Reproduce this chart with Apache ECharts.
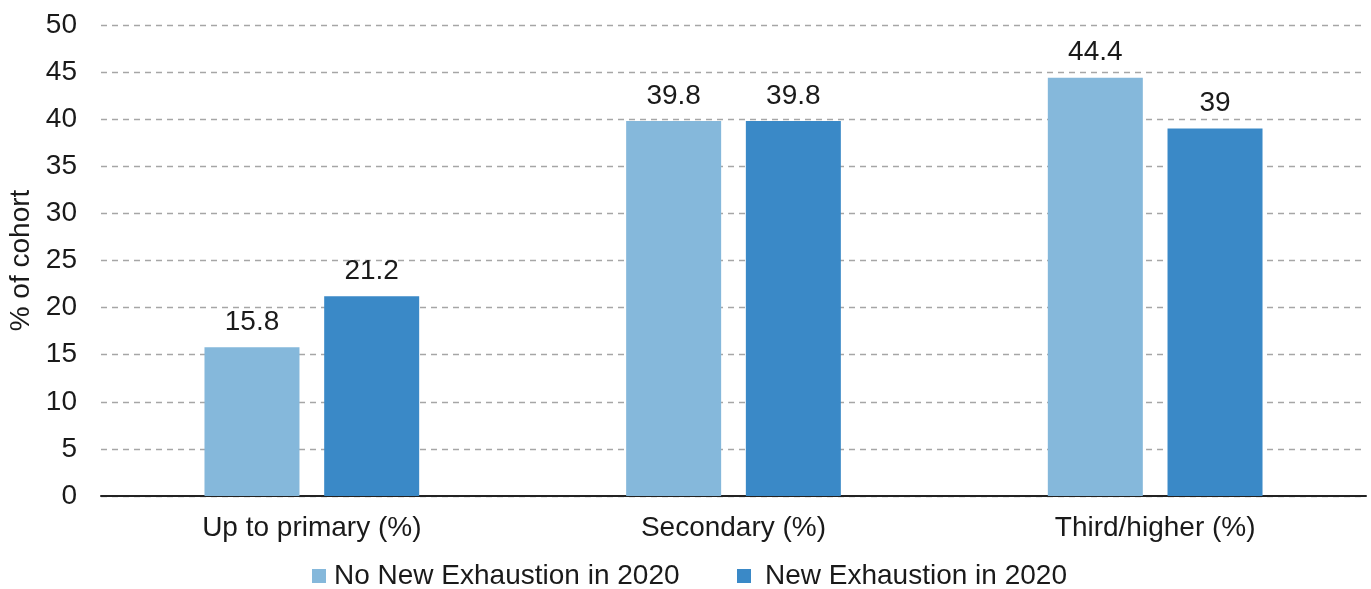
<!DOCTYPE html>
<html>
<head>
<meta charset="utf-8">
<script src="https://cdn.jsdelivr.net/npm/echarts@6/dist/echarts.min.js"></script>
<style>
  html, body { margin: 0; padding: 0; background: #fff; }
  #chart { width: 1371px; height: 589px; }
</style>
</head>
<body>
<div id="chart"></div>
<script>
// Education level of the cohort, split by new exhaustion status in 2020
const categories = ['Up to primary (%)', 'Secondary (%)', 'Third/higher (%)'];
const seriesNames = ['No New Exhaustion in 2020', 'New Exhaustion in 2020'];
const noNewExhaustion = [15.8, 39.8, 44.4];
const newExhaustion = [21.2, 39.8, 39];

const FONT = '"Liberation Sans", Arial, sans-serif';
const TEXT = '#1a1a1a';
const COLORS = ['#85b8db', '#3a89c7'];

const chart = echarts.init(document.getElementById('chart'));

const labelStyle = {
  show: true,
  position: 'top',
  distance: 11,
  color: TEXT,
  fontFamily: FONT,
  fontSize: 28
};

// one legend block per series so each swatch sits at its own spot
function legendBlock(name, left, textGap) {
  return {
    left: left,
    top: 557,
    itemWidth: 14,
    itemHeight: 14,
    icon: 'rect',
    textStyle: { color: TEXT, fontFamily: FONT, fontSize: 28, padding: [0, 0, 0, textGap - 5] },
    data: [name]
  };
}

chart.setOption({
  animation: false,
  color: COLORS,
  grid: { left: 101, right: 5, top: 25, bottom: 93, outerBoundsMode: 'none', containLabel: false },
  legend: [
    legendBlock(seriesNames[0], 307, 8),
    legendBlock(seriesNames[1], 732, 14)
  ],
  xAxis: {
    type: 'category',
    data: categories,
    axisLine: { lineStyle: { color: '#222', width: 2 } },
    axisTick: { show: false },
    axisLabel: { color: TEXT, fontFamily: FONT, fontSize: 28, margin: 18 }
  },
  yAxis: {
    type: 'value',
    min: 0,
    max: 50,
    interval: 5,
    name: '% of cohort',
    nameLocation: 'middle',
    nameGap: 65,
    nameTextStyle: { color: TEXT, fontFamily: FONT, fontSize: 28 },
    axisLine: { show: false },
    axisTick: { show: false },
    axisLabel: { color: TEXT, fontFamily: FONT, fontSize: 28, margin: 24 },
    splitLine: { lineStyle: { color: '#a6a6a6', type: [6, 5], width: 1.3 } }
  },
  series: [
    {
      name: seriesNames[0],
      type: 'bar',
      data: noNewExhaustion,
      barWidth: 95,
      barGap: '26%',
      itemStyle: { color: COLORS[0] },
      label: labelStyle
    },
    {
      name: seriesNames[1],
      type: 'bar',
      data: newExhaustion,
      barWidth: 95,
      itemStyle: { color: COLORS[1] },
      label: labelStyle
    }
  ]
});
</script>
</body>
</html>
